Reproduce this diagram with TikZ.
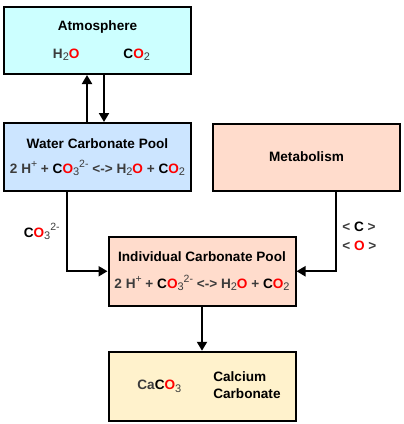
\documentclass[tikz,border=0pt]{standalone}
\usepackage{fontspec}
\setmainfont{Liberation Sans}
\usepackage{tikz}
\usetikzlibrary{positioning, arrows.meta, calc}
\definecolor{atmfill}{HTML}{CCFFFF}
\definecolor{waterfill}{HTML}{CCE5FF}
\definecolor{poolfill}{HTML}{FFDCCC}
\definecolor{calcfill}{HTML}{FFF2CC}
\definecolor{formula}{HTML}{3C3C3C}
\newcommand{\Ox}{\textcolor{red}{O}}
\newcommand{\Cx}{\textcolor{black}{C}}
\newcommand{\csub}[1]{\raisebox{-0.35ex}{\fontsize{11}{12}\mdseries #1}}
\newcommand{\csup}[1]{\raisebox{0.85ex}{\fontsize{10.5}{12}\mdseries #1}}
\newcommand{\poolreaction}{{\color{formula}2 H\csup{+} + \Cx\Ox\csub{3}\csup{2-} <-> H\csub{2}\Ox{} + \Cx\Ox\csub{2}}}

\begin{document}
\begin{tikzpicture}[
      font=\fontsize{13.6}{16}\selectfont\bfseries,
      box/.style={rectangle, draw=black, line width=2pt,
        minimum width=187pt, minimum height=67pt, inner sep=0pt, align=center},
      arrow/.style={-{Triangle[length=9pt, width=10pt]}, line width=2pt}]

    \useasboundingbox (0,0) rectangle (404pt,-424pt);

    \node[box, fill=atmfill] (atm) at (97.5pt,-40.5pt)
      {Atmosphere\\[12pt]\hspace*{8pt}{\color{formula}H\csub{2}}\Ox\hspace{44pt}\Cx\Ox{\color{formula}\csub{2}}};
    \node[box, fill=waterfill, minimum height=68pt, below=47pt of atm] (water)
      {Water Carbonate Pool\\[9pt]\poolreaction};
    \node[box, fill=poolfill, right=20pt of water] (metab) {Metabolism};

    \coordinate (mid) at ($(water.south)!0.5!(metab.south)$);
    \node[box, fill=poolfill, minimum height=69pt, below=44pt of mid] (indiv)
      {Individual Carbonate Pool\\[11pt]\poolreaction};
    \node[box, fill=calcfill, minimum height=69pt, below=44pt of indiv] (calc)
      {\hspace*{14pt}{\color{formula}Ca}\Cx\Ox{\color{formula}\csub{3}}\hspace{32pt}%
       {\renewcommand{\arraystretch}{1.05}\begin{tabular}{@{}l@{}}Calcium\\Carbonate\end{tabular}}};

    \draw[arrow] ([xshift=-10.5pt]water.north) -- ([xshift=-10.5pt]atm.south);
    \draw[arrow] ([xshift=6.5pt]atm.south) -- ([xshift=6.5pt]water.north);
    \draw[arrow] ([xshift=-30.5pt]water.south) |-
      node[pos=0.25, left=3pt] {\Cx\Ox{\color{formula}\csub{3}\csup{2-}}} (indiv.west);
    \draw[arrow] ([xshift=29.5pt]metab.south) |-
      node[pos=0.28, right=2pt, align=left]
        {{\color{formula}<} \Cx{} {\color{formula}>}\\[3pt]{\color{formula}<} \Ox{} {\color{formula}>}}
      (indiv.east);
    \draw[arrow] (indiv) -- (calc);
  \end{tikzpicture}
\end{document}
